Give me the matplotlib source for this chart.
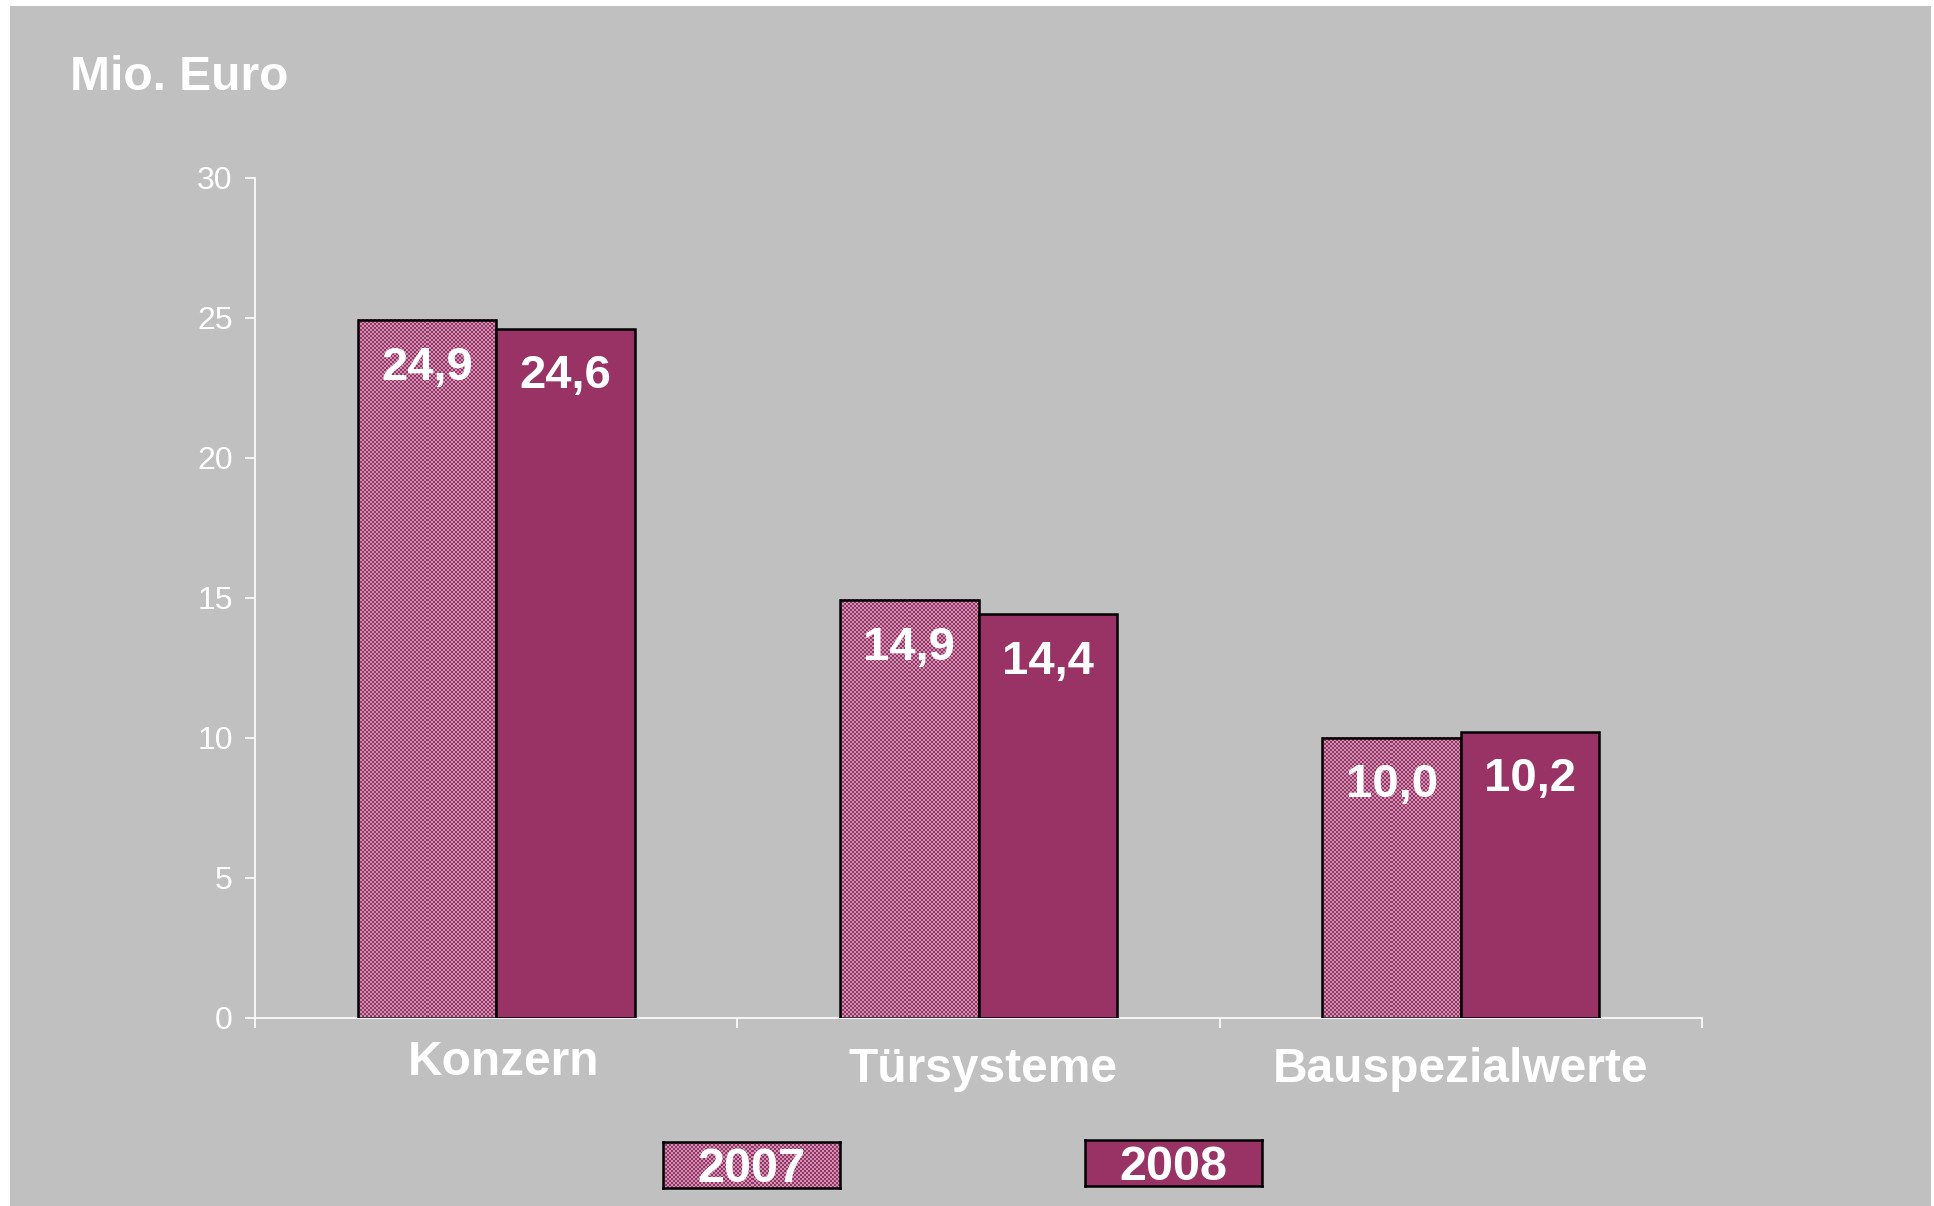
import numpy as np
import matplotlib.pyplot as plt
from matplotlib.patches import Rectangle
from matplotlib.transforms import blended_transform_factory

plt.rcParams['font.family'] = ['Liberation Sans', 'DejaVu Sans']

# Daten
kategorien = ["Konzern", "Türsysteme", "Bauspezialwerte"]
werte_2007 = [24.9, 14.9, 10.0]
werte_2008 = [24.6, 14.4, 10.2]
jahre = ["2007", "2008"]
y_ticks = [0, 5, 10, 15, 20, 25, 30]

grau = "#c0c0c0"
lila = "#993366"
rosa = "#cc93b2"


def schachbrett(ny, nx):
    # feines Karomuster wie in der Vorlage (Excel-Füllmuster)
    yy, xx = np.mgrid[0:ny, 0:nx]
    maske = (xx + yy) % 2 == 0
    bild = np.zeros((ny, nx, 3))
    bild[maske] = plt.matplotlib.colors.to_rgb(lila)
    bild[~maske] = plt.matplotlib.colors.to_rgb(rosa)
    return bild


W, H = 1934, 1206
fig = plt.figure(figsize=(W / 100, H / 100), dpi=100, facecolor="white")
fig.patches.append(Rectangle((10 / W, 0), 1921 / W, 1200 / H, transform=fig.transFigure,
                             facecolor=grau, edgecolor="none", zorder=-10))

ax = fig.add_axes([255 / W, 1 - 1017.5 / H, (1702 - 255) / W, (1017.5 - 177.6) / H])
ax.set_facecolor("none")
ax.set_xlim(-0.5, 2.5)
ax.set_ylim(0, 30)

x = np.arange(len(kategorien))
b = 0.287

balken_07 = ax.bar(x - b / 2, werte_2007, b, facecolor="none", edgecolor="black", linewidth=1.8, zorder=3)
balken_08 = ax.bar(x + b / 2, werte_2008, b, facecolor=lila, edgecolor="black", linewidth=1.8, zorder=3)

# Karomuster in die 2007er Balken
for p in balken_07:
    x0, x1 = p.get_x(), p.get_x() + p.get_width()
    y1 = p.get_height()
    (px0, py0), (px1, py1) = ax.transData.transform([(x0, 0), (x1, y1)])
    nx = max(1, int(round((px1 - px0) / 2)))
    ny = max(1, int(round((py1 - py0) / 2)))
    ax.imshow(schachbrett(ny, nx), extent=[x0, x1, 0, y1], aspect="auto",
              interpolation="nearest", zorder=2)
ax.set_xlim(-0.5, 2.5)
ax.set_ylim(0, 30)

# Werte in den Balken
for balken, werte in [(balken_07, werte_2007), (balken_08, werte_2008)]:
    for p, v in zip(balken, werte):
        ax.annotate(f"{v:.1f}".replace(".", ","), (p.get_x() + p.get_width() / 2, v),
                    xytext=(0, -34), textcoords="offset points", ha="center", va="center",
                    color="white", fontsize=34, fontweight="bold", zorder=5)

# Achsen
for s in ["top", "right"]:
    ax.spines[s].set_visible(False)
for s in ["left", "bottom"]:
    ax.spines[s].set_color("white")
    ax.spines[s].set_linewidth(1.2)

ax.set_yticks(y_ticks)
ax.tick_params(axis="y", colors="white", labelsize=23, length=7, width=1.2, pad=9)
ax.set_xticks([-0.5, 0.5, 1.5, 2.5])
ax.set_xticklabels([])
ax.tick_params(axis="x", colors="white", length=7, width=1.2, direction="out")

# Kategorienamen (leicht versetzt wie in der Vorlage)
label_y = [-0.053, -0.062, -0.062]
label_dx = [5, 3, 0]
for i, name in enumerate(kategorien):
    ax.annotate(name, (x[i], label_y[i]), xycoords=("data", "axes fraction"),
                xytext=(label_dx[i], 0), textcoords="offset points", ha="center", va="center",
                color="white", fontsize=34.5, fontweight="bold", annotation_clip=False)

fig.text(70 / W, 1 - 90 / H, "Mio. Euro", color="white", fontsize=34.5,
         fontweight="bold", ha="left", va="baseline")

# Legende als zwei Kästchen
kasten = [(663, 1142), (1085, 1140)]
for j, (lx, ly) in enumerate(kasten):
    lax = fig.add_axes([lx / W, 1 - (ly + 46) / H, 177 / W, 46 / H])
    if j == 0:
        lax.imshow(schachbrett(23, 88), extent=[0, 1, 0, 1], aspect="auto", interpolation="nearest")
    else:
        lax.set_facecolor(lila)
    lax.set_xlim(0, 1)
    lax.set_ylim(0, 1)
    lax.set_xticks([])
    lax.set_yticks([])
    for s in lax.spines.values():
        s.set_color("black")
        s.set_linewidth(1.8)
    lax.text(0.5, 0.40, jahre[j], ha="center", va="center", color="white",
             fontsize=35, fontweight="bold", transform=lax.transAxes)

fig.savefig("out.png", dpi=100, facecolor="white")
